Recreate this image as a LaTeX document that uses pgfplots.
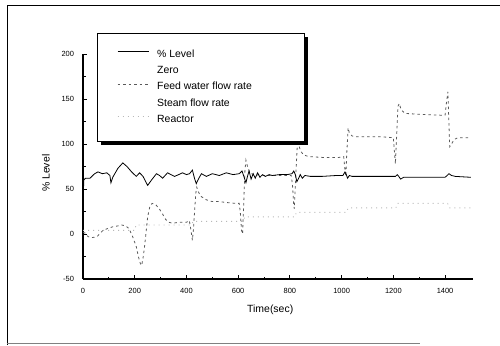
\documentclass[border=0pt]{standalone}
\usepackage{pgfplots}
\pgfplotsset{compat=1.18}
\usepackage{fontspec}
\setmainfont{Liberation Sans}
\definecolor{feedc}{gray}{0.35}
\definecolor{reacc}{gray}{0.72}
\begin{document}
\begin{tikzpicture}
\useasboundingbox (0bp,0bp) rectangle (500bp,346bp);
\draw[line width=1bp] (7bp,1bp) -- (7bp,340bp) -- (500bp,340bp);
\draw[line width=1bp, gray] (7bp,2bp) -- (420bp,2bp);
\begin{axis}[
  at={(83bp,67bp)}, anchor=south west,
  scale only axis, width=390bp, height=225bp,
  xmin=0, xmax=1508, ymin=-50, ymax=200,
  axis x line*=bottom, axis y line*=left,
  axis line style={line width=1.2bp, -},
  xtick={0,200,...,1400}, ytick={-50,0,...,200},
  minor x tick num=1, minor y tick num=1,
  tick align=inside,
  major tick length=4bp, minor tick length=2.5bp,
  every tick/.style={black, line width=0.9bp},
  /pgf/number format/assume math mode=true,
  /pgf/number format/1000 sep={},
  tick label style={font=\fontsize{7.5}{9}\selectfont},
  yticklabel style={xshift=-5.5bp},
  xticklabel style={yshift=-5.5bp},
  xlabel={Time(sec)}, ylabel={\% Level},
  label style={font=\fontsize{10.5}{12}\selectfont},
  xlabel style={at={(axis description cs:0.48,-0.138)}, anchor=center},
  ylabel style={at={(axis description cs:-0.095,0.47)}, anchor=center},
  legend style={name=leg, at={(0.036,1.093)}, anchor=north west,
    draw=black, line width=0.6bp, fill=white,
    inner xsep=20bp, inner ysep=16.5bp,
    row sep=6.8bp, column sep=8bp,
    nodes={inner sep=0bp, text height=7.5bp, text depth=2bp},
    font=\fontsize{10.5}{12}\selectfont},
  legend cell align=left,
  legend image code/.code={\draw[#1] (0bp,3bp) -- (31bp,3bp);},
]
\addlegendimage{black, line width=0.8bp}
\addlegendentry{\% Level}
\addlegendimage{empty legend}
\addlegendentry{Zero}
\addlegendimage{feedc, line width=0.8bp, dash pattern=on 2.5bp off 3bp}
\addlegendentry{\makebox[127bp][l]{Feed water flow rate}}
\addlegendimage{empty legend}
\addlegendentry{Steam flow rate}
\addlegendimage{reacc, line width=0.8bp, dash pattern=on 1bp off 4bp}
\addlegendentry{Reactor}

\addplot[forget plot, reacc, line width=0.8bp, dash pattern=on 1bp off 4bp] coordinates {
(0,4)(200,4)(205,10)(420,10)(425,14)(620,14)(625,19)(820,19)(825,24)(1020,24)(1025,29)(1210,29)(1215,34)(1410,34)(1415,29)(1500,29)};

\addplot[forget plot, feedc, line width=0.8bp, dash pattern=on 2.5bp off 3bp] coordinates {
(0,2)(8,1)(20,-3)(35,-4)(54,-3)(77,4)(95,6)(115,8)(135,9)(150,10)(165,9)(178,6)(192,-3)(206,-14)(215,-26)(222,-33)(227,-35)(233,-25)(238,-14)(245,5)(250,19)(258,30)(267,34)(280,33)(295,28)(308,22)(320,16)(332,13)(346,12)(373,13)(400,13)(411,15)(417,5)(423,-7)(427,5)(431,23)(436,45)(440,52)(446,47)(455,42)(477,38)(500,36)(527,36)(554,35)(590,34)(604,34)(608,25)(613,4)(617,0)(621,30)(626,70)(630,82)(636,75)(645,68)(660,66)(700,65)(760,65)(805,65)(810,55)(814,35)(817,28)(822,60)(828,95)(833,101)(840,93)(852,88)(873,86)(930,85)(988,85)(1008,86)(1012,74)(1016,64)(1020,90)(1025,118)(1030,112)(1040,109)(1053,108)(1100,108)(1154,108)(1200,107)(1204,92)(1208,78)(1213,110)(1218,142)(1223,145)(1230,138)(1245,134)(1300,133)(1385,132)(1400,132)(1405,145)(1411,158)(1414,130)(1418,97)(1425,100)(1435,105)(1450,107)(1500,107)};

\addplot[forget plot, black, line width=0.8bp] coordinates {
(0,50)(2,50)(3,60)(10,62)(27,62)(45,67)(58,69)(75,67)(92,68)(104,65)(108,57)(115,63)(135,73)(154,79)(170,75)(188,69)(206,64)(219,68)(232,64)(250,54)(265,60)(284,67)(296,65)(308,62)(327,68)(340,66)(354,64)(370,66)(385,68)(400,66)(412,67)(423,71)(431,62)(438,56)(448,62)(458,67)(477,64)(500,67)(527,65)(554,68)(580,66)(604,67)(615,70)(622,64)(630,57)(636,64)(642,70)(650,61)(658,67)(666,62)(675,68)(684,63)(694,66)(705,64)(720,66)(731,65)(760,66)(790,66)(808,67)(815,70)(821,66)(827,58)(834,62)(840,66)(848,62)(858,65)(880,64)(923,64)(980,65)(1005,65)(1013,69)(1018,66)(1023,62)(1030,65)(1040,64)(1100,64)(1208,64)(1215,66)(1221,64)(1228,61)(1240,63)(1260,63)(1400,63)(1408,65)(1415,67)(1425,65)(1440,64)(1500,63)};
\end{axis}
\fill[black] ([xshift=3.5bp,yshift=-3.5bp]leg.south west) rectangle ([xshift=3.5bp]leg.south east);
\fill[black] ([yshift=-3.5bp]leg.south east) rectangle ([xshift=3.5bp,yshift=-3.5bp]leg.north east);
\end{tikzpicture}
\end{document}
